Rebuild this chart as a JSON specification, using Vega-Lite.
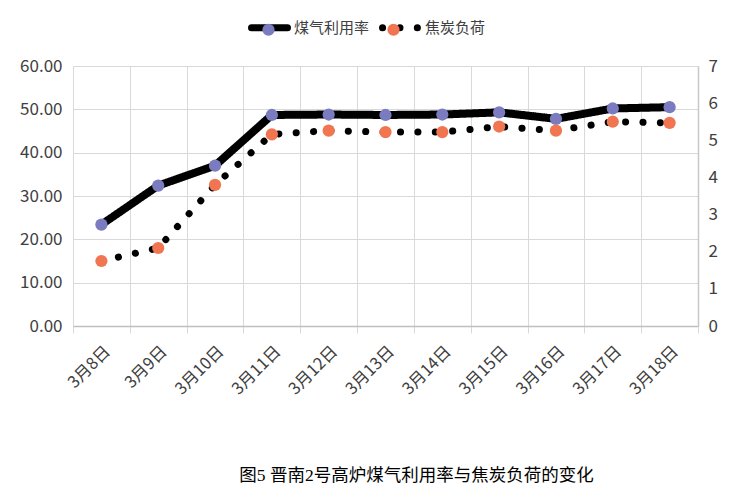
{
  "$schema": "https://vega.github.io/schema/vega-lite/v6.json",
  "autosize": "none",
  "width": 625,
  "height": 260,
  "padding": {"left": 73, "top": 66, "right": 34, "bottom": 173},
  "background": "white",
  "config": {
    "view": {"stroke": null},
    "font": "Noto Sans CJK SC"
  },
  "title": {
    "text": "图5  晋南2号高炉煤气利用率与焦炭负荷的变化",
    "orient": "bottom",
    "anchor": "middle",
    "dx": 31,
    "offset": 70,
    "font": "Liberation Serif, Noto Sans CJK SC",
    "fontSize": 17.5,
    "fontWeight": "normal",
    "color": "#000000"
  },
  "data": {
    "values": [
      {"date": "3月8日", "gas": 23.4, "coke": 1.75},
      {"date": "3月9日", "gas": 32.4, "coke": 2.1},
      {"date": "3月10日", "gas": 37.0, "coke": 3.8},
      {"date": "3月11日", "gas": 48.7, "coke": 5.16},
      {"date": "3月12日", "gas": 48.8, "coke": 5.26},
      {"date": "3月13日", "gas": 48.7, "coke": 5.22},
      {"date": "3月14日", "gas": 48.8, "coke": 5.22},
      {"date": "3月15日", "gas": 49.3, "coke": 5.37},
      {"date": "3月16日", "gas": 47.8, "coke": 5.26},
      {"date": "3月17日", "gas": 50.2, "coke": 5.5},
      {"date": "3月18日", "gas": 50.5, "coke": 5.47}
    ]
  },
  "encoding": {
    "x": {
      "field": "date",
      "type": "ordinal",
      "sort": null,
      "scale": {"type": "band", "paddingInner": 0, "paddingOuter": 0},
      "axis": {
        "title": null,
        "tickBand": "extent",
        "grid": true,
        "gridColor": "#d9d9d9",
        "domainColor": "#bfbfbf",
        "domainWidth": 1.5,
        "tickColor": "#d9d9d9",
        "tickSize": 7,
        "labelAngle": -45,
        "labelPadding": 10,
        "labelFontSize": 16.5,
        "labelColor": "#404040"
      }
    }
  },
  "layer": [
    {
      "encoding": {
        "y": {
          "field": "gas",
          "type": "quantitative",
          "scale": {"domain": [0, 60]},
          "axis": {
            "title": null,
            "values": [0, 10, 20, 30, 40, 50, 60],
            "format": ".2f",
            "grid": true,
            "gridColor": "#d9d9d9",
            "domain": false,
            "ticks": false,
            "labelPadding": 11,
            "labelFontSize": 17,
            "labelColor": "#404040"
          }
        }
      },
      "layer": [
        {
          "mark": {"type": "line", "color": "black", "strokeWidth": 8, "strokeCap": "round", "strokeJoin": "round"},
          "encoding": {
            "strokeDash": {
              "datum": "煤气利用率",
              "scale": {"domain": ["煤气利用率", "焦炭负荷"], "range": [[1, 0], [0.1, 17.3]]},
              "legend": {
                "title": null,
                "orient": "none",
                "direction": "horizontal",
                "legendX": 175,
                "legendY": -60,
                "symbolType": "stroke",
                "symbolSize": 1296,
                "symbolStrokeWidth": 7,
                "symbolStrokeColor": "black",
                "labelFontSize": 15,
                "labelColor": "#404040",
                "labelOffset": 3,
                "columnPadding": -2,
                "encode": {"symbols": {"update": {"strokeCap": {"value": "round"}}}}
              }
            }
          }
        },
        {
          "mark": {"type": "point", "filled": true, "opacity": 1, "size": 150},
          "encoding": {
            "color": {
              "datum": "g",
              "scale": {"domain": ["g", "c"], "range": ["#7b7bc0", "#f07550"]},
              "legend": {
                "title": null,
                "orient": "none",
                "direction": "horizontal",
                "legendX": 175,
                "legendY": -44,
                "symbolType": "circle",
                "symbolSize": 150,
                "symbolOffset": 13,
                "symbolStrokeWidth": 0,
                "symbolOpacity": 1,
                "labelExpr": "datum.label == 'g' ? '煤气利用率' : '焦炭负荷'",
                "labelFontSize": 15,
                "labelOpacity": 0,
                "labelOffset": 21,
                "columnPadding": -2
              }
            }
          }
        }
      ]
    },
    {
      "encoding": {
        "y": {
          "field": "coke",
          "type": "quantitative",
          "scale": {"domain": [0, 7]},
          "axis": {
            "title": null,
            "orient": "right",
            "values": [0, 1, 2, 3, 4, 5, 6, 7],
            "format": "d",
            "grid": false,
            "domain": true,
            "domainColor": "#c8c8c8",
            "domainWidth": 1.5,
            "ticks": false,
            "labelPadding": 10,
            "labelFontSize": 17,
            "labelColor": "#404040"
          }
        }
      },
      "layer": [
        {
          "mark": {"type": "line", "color": "black", "strokeWidth": 7, "strokeCap": "round"},
          "encoding": {"strokeDash": {"datum": "焦炭负荷"}}
        },
        {
          "mark": {"type": "point", "filled": true, "opacity": 1, "size": 150},
          "encoding": {"color": {"datum": "c"}}
        }
      ]
    }
  ],
  "resolve": {"scale": {"y": "independent"}}
}
